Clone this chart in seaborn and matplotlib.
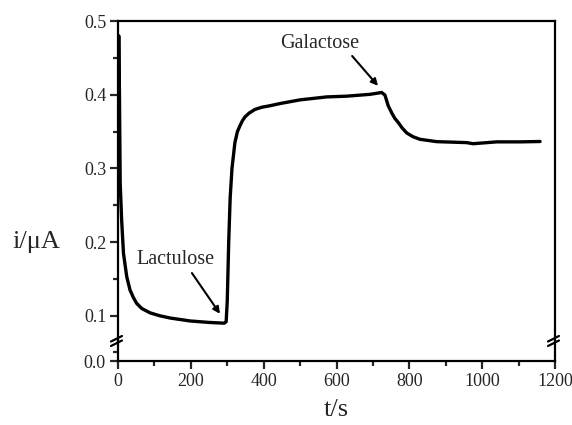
import numpy as np
import pandas as pd
import matplotlib
matplotlib.use('Agg')
import matplotlib.pyplot as plt
from matplotlib.lines import Line2D
import seaborn as sns

# current trace
t_s = [0, 2, 4, 6, 10, 15, 24, 33, 42, 51, 65, 88, 115, 143, 198, 250, 292,
       297, 300, 304, 308, 313, 321, 328, 335, 342, 349, 360, 376, 395, 417,
       445, 500, 573, 628, 692, 724, 733, 742, 752, 760, 770, 780, 793, 810,
       829, 875, 957, 975, 1040, 1104, 1159]
i_uA = [0.34, 0.48, 0.40, 0.28, 0.23, 0.185, 0.153, 0.135, 0.125, 0.117, 0.110,
        0.104, 0.100, 0.097, 0.093, 0.091, 0.090, 0.092, 0.12, 0.20, 0.26, 0.30,
        0.335, 0.350, 0.358, 0.365, 0.370, 0.375, 0.380, 0.383, 0.385, 0.388,
        0.393, 0.397, 0.398, 0.4005, 0.403, 0.3995, 0.385, 0.375, 0.368, 0.362,
        0.355, 0.348, 0.343, 0.3395, 0.3363, 0.335, 0.3335, 0.336, 0.336, 0.3365]

x_major = [0, 200, 400, 600, 800, 1000, 1200]
y_major = [0.1, 0.2, 0.3, 0.4, 0.5]

df = pd.DataFrame({'t': t_s, 'i': i_uA})

sns.set_style('ticks')
plt.rcParams['font.family'] = ['Liberation Serif', 'DejaVu Serif']

W, H = 572, 425
fig = plt.figure(figsize=(W / 100, H / 100), dpi=100)

def fx(px):
    return px / W

def fy(py):
    return 1 - py / H

left, right = 118, 555
top, brk, bot = 21, 341, 361
scale = 737.0  # px per unit current

ax = fig.add_axes([fx(left), fy(brk), fx(right) - fx(left), fy(top) - fy(brk)])
axl = fig.add_axes([fx(left), fy(bot), fx(right) - fx(left), fy(brk) - fy(bot)], sharex=ax)

sns.lineplot(data=df, x='t', y='i', ax=ax, color='black', lw=2.4,
             sort=False, estimator=None)

ax.set_xlim(0, 1200)
ax.set_ylim(0.5 - (brk - top) / scale, 0.5)
axl.set_ylim(0, (bot - brk) / scale)

for a in (ax, axl):
    for s in a.spines.values():
        s.set_linewidth(1.6)
        s.set_color('black')
    a.set_xlabel('')
    a.set_ylabel('')
    a.set_facecolor('white')

ax.spines['bottom'].set_visible(False)
axl.spines['top'].set_visible(False)

ax.set_yticks(y_major)
ax.set_yticks([0.15, 0.25, 0.35, 0.45], minor=True)
ax.set_yticklabels([f'{v:.1f}' for v in y_major])
ax.tick_params(axis='x', which='both', bottom=False, labelbottom=False)
ax.tick_params(axis='y', which='major', length=6, width=1.6, pad=2, labelsize=13)
ax.tick_params(axis='y', which='minor', length=3.5, width=1.6)

axl.set_yticks([0.0])
axl.set_yticklabels(['0.0'])
axl.set_yticks([0.0122], minor=True)
axl.set_xticks(x_major)
axl.set_xticks([100, 300, 500, 700, 900, 1100], minor=True)
axl.set_xticklabels([str(v) for v in x_major])
axl.tick_params(axis='both', which='major', length=6, width=1.6, pad=3, labelsize=13)
axl.tick_params(axis='y', which='minor', length=3.5, width=1.6)
axl.tick_params(axis='x', which='minor', length=3.5, width=1.6)

# break marks on both vertical spines
for sx in (left, right):
    for dy in (0, 4.5):
        fig.add_artist(Line2D([fx(sx - 7), fx(sx + 4)],
                              [fy(brk + 0.5 + dy), fy(brk - 5 + dy)],
                              color='black', lw=1.6, transform=fig.transFigure))

# annotations
ax.text(159, 0.177, 'Lactulose', ha='center', va='center', fontsize=14.5)
ax.annotate('', xy=(280, 0.1027), xytext=(203, 0.158),
            arrowprops=dict(arrowstyle='-|>', color='black', lw=1.5,
                            mutation_scale=10, shrinkA=0, shrinkB=0))
ax.text(555, 0.470, 'Galactose', ha='center', va='center', fontsize=14.5)
ax.annotate('', xy=(714, 0.412), xytext=(643, 0.4525),
            arrowprops=dict(arrowstyle='-|>', color='black', lw=1.5,
                            mutation_scale=10, shrinkA=0, shrinkB=0))

fig.text(fx(36), fy(242), 'i/μA', ha='center', va='center', fontsize=19)
fig.text(fx(336), fy(410), 't/s', ha='center', va='center', fontsize=19)

fig.savefig('out.png', dpi=100, facecolor='white')
